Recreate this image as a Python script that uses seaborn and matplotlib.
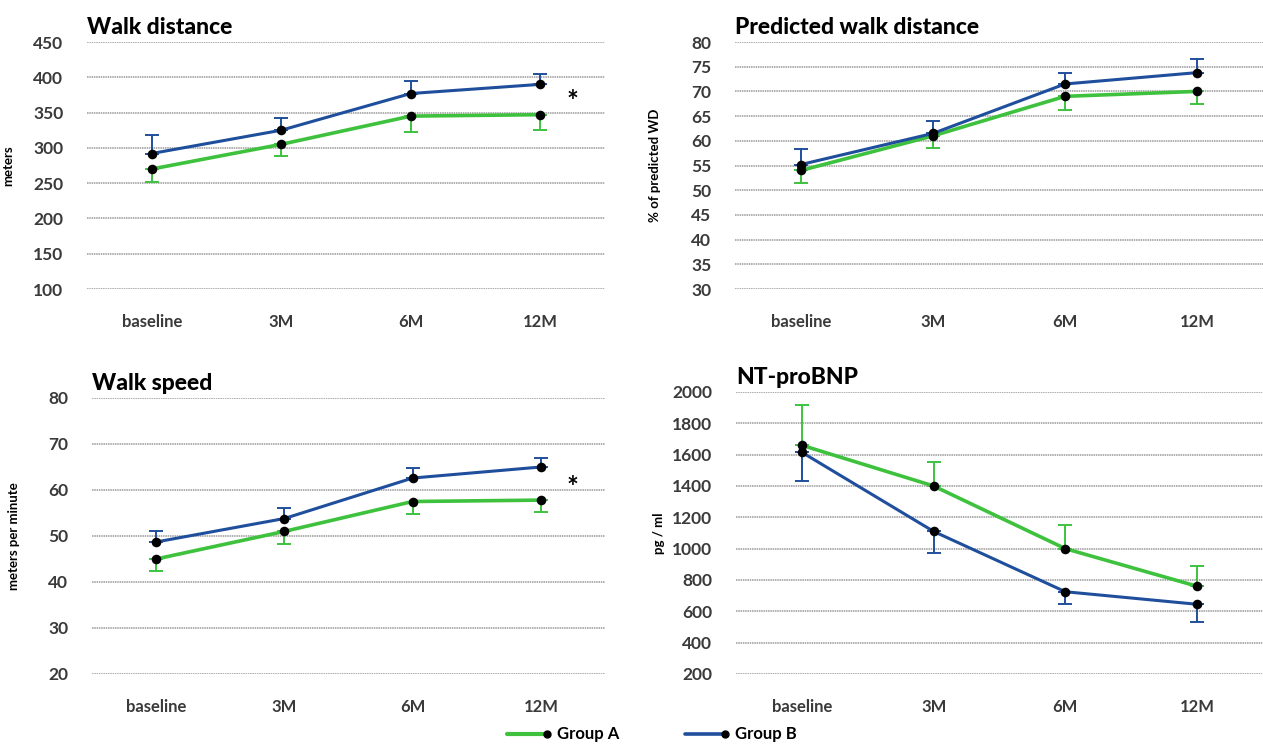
import numpy as np
import pandas as pd
import matplotlib
matplotlib.use("Agg")
import matplotlib.pyplot as plt
from matplotlib.lines import Line2D
import seaborn as sns

# time points
visits = ["baseline", "3M", "6M", "12M"]
groups = ["Group A", "Group B"]

# walk distance (meters)
wd_a = [270, 305, 345, 347]
wd_a_err = [18, 17, 23, 21]
wd_b = [292, 325, 377, 390]
wd_b_err = [26, 18, 18, 14]

# predicted walk distance (%)
pwd_a = [54.0, 61.0, 69.0, 70.0]
pwd_a_err = [2.5, 2.5, 2.7, 2.5]
pwd_b = [55.2, 61.5, 71.5, 73.8]
pwd_b_err = [3.1, 2.5, 2.3, 2.7]

# walk speed (m/min)
ws_a = [45.0, 51.0, 57.5, 57.8]
ws_a_err = [2.5, 2.7, 2.8, 2.5]
ws_b = [48.7, 53.8, 62.6, 65.0]
ws_b_err = [2.3, 2.2, 2.2, 2.0]

# NT-proBNP (pg/ml)
bnp_a = [1660, 1400, 1000, 760]
bnp_a_err = [255, 155, 150, 130]
bnp_b = [1615, 1110, 725, 645]
bnp_b_err = [185, 135, 80, 110]

green = "#3ec23e"
blue = "#1f4f9c"
tick_col = "#3a3a3a"

sns.set_theme(style="white")
plt.rcParams["font.family"] = ["Lato", "DejaVu Sans"]

fig = plt.figure(figsize=(12.63, 7.45), dpi=100)
W, H = 1263, 745


def px_axes(x0, x1, ytop, ybot):
    return fig.add_axes([x0 / W, (H - ybot) / H, (x1 - x0) / W, (ybot - ytop) / H])


panels = [
    dict(box=(87, 605, 42, 289), title="Walk distance", ylabel="meters",
         a=wd_a, ae=wd_a_err, b=wd_b, be=wd_b_err, ticks=np.arange(100, 451, 50),
         star=(3.25, 365), labx=-0.14),
    dict(box=(735, 1263, 42, 289), title="Predicted walk distance", ylabel="% of predicted WD",
         a=pwd_a, ae=pwd_a_err, b=pwd_b, be=pwd_b_err, ticks=np.arange(30, 81, 5),
         star=None, labx=-0.14),
    dict(box=(92, 605, 398, 674), title="Walk speed", ylabel="meters per minute",
         a=ws_a, ae=ws_a_err, b=ws_b, be=ws_b_err, ticks=np.arange(20, 81, 10),
         star=(3.25, 60.5), labx=-0.14),
    dict(box=(736, 1263, 392, 674), title="NT-proBNP", ylabel="pg / ml",
         a=bnp_a, ae=bnp_a_err, b=bnp_b, be=bnp_b_err, ticks=np.arange(200, 2001, 200),
         star=None, labx=-0.135),
]

for p in panels:
    ax = px_axes(*p["box"])
    df = pd.DataFrame({
        "visit": visits * 2,
        "x": list(range(4)) * 2,
        "value": p["a"] + p["b"],
        "group": ["Group A"] * 4 + ["Group B"] * 4,
    })
    # one-sided error bars: green down, blue up (NT-proBNP reversed)
    if p["title"] == "NT-proBNP":
        ea, eb = [np.zeros(4), p["ae"]], [p["be"], np.zeros(4)]
    else:
        ea, eb = [p["ae"], np.zeros(4)], [np.zeros(4), p["be"]]
    ax.errorbar(range(4), p["a"], yerr=ea, fmt="none",
                ecolor=green, elinewidth=1.4, capsize=5, capthick=1.4, zorder=2)
    ax.errorbar(range(4), p["b"], yerr=eb, fmt="none",
                ecolor=blue, elinewidth=1.4, capsize=5, capthick=1.4, zorder=2)
    sns.lineplot(data=df, x="x", y="value", hue="group", palette=[green, blue],
                 ax=ax, legend=False, zorder=3)
    lw = {0: 2.6, 1: 2.2}
    for i, ln in enumerate(ax.get_lines()[-2:]):
        ln.set_linewidth(lw[i])
    sns.scatterplot(data=df, x="x", y="value", color="black", s=48, ax=ax,
                    legend=False, zorder=4, edgecolor="black", linewidth=0)

    ax.set_xlim(-0.5, 3.5)
    ax.set_ylim(p["ticks"][0], p["ticks"][-1])
    ax.set_yticks(p["ticks"])
    ax.set_xticks(range(4))
    ax.set_xticklabels(visits)
    ax.yaxis.grid(True, color="#9a9a9a", linewidth=1.1, linestyle=(0, (1, 0.5)))
    ax.set_axisbelow(True)
    for s in ax.spines.values():
        s.set_visible(False)
    ax.tick_params(axis="y", length=0, pad=17, labelsize=12.5, labelcolor=tick_col)
    ax.tick_params(axis="x", length=0, pad=18, labelsize=12, labelcolor=tick_col)
    for t in ax.get_xticklabels() + ax.get_yticklabels():
        t.set_fontweight("bold")
    ax.set_xlabel("")
    ax.set_ylabel(p["ylabel"], fontsize=9.5, fontweight="bold", color="black")
    ax.yaxis.set_label_coords(p["labx"], 0.5)
    ax.set_title(p["title"], loc="left", fontsize=16.5, fontweight="black", color="black",
                 pad=6)
    if p["star"] is not None:
        ax.text(p["star"][0], p["star"][1], "*", fontsize=20, fontweight="bold",
                ha="center", va="center", color="black")

# legend at the bottom
for x0, col, lw_, name in [(507, green, 3.0, "Group A"), (685, blue, 2.6, "Group B")]:
    yy = (H - 734) / H
    fig.add_artist(Line2D([x0 / W, (x0 + 40) / W], [yy, yy], color=col, linewidth=lw_,
                          transform=fig.transFigure))
    fig.add_artist(Line2D([(x0 + 40) / W], [yy], marker="o", markersize=5,
                          color="black", transform=fig.transFigure))
    fig.text((x0 + 50) / W, yy, name, fontsize=12, fontweight="bold",
             va="center", ha="left", color="black")

fig.savefig("out.png", dpi=100, facecolor="white")
